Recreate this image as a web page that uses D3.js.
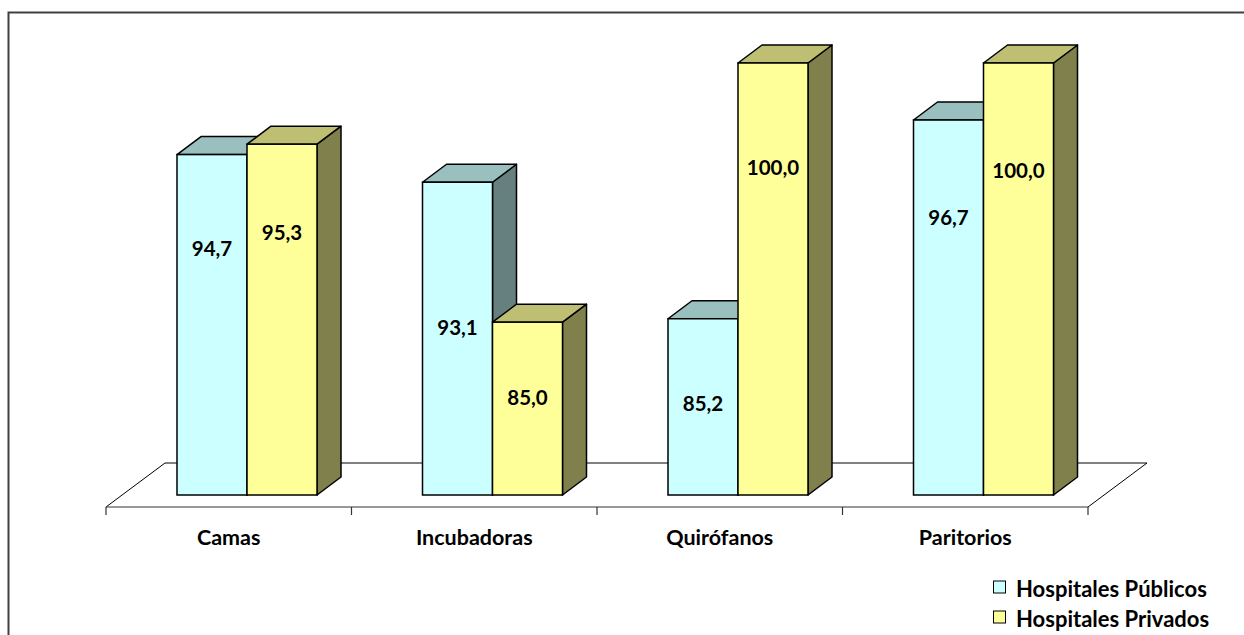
<!DOCTYPE html>
<html>
<head>
<meta charset="utf-8">
<script src="https://cdn.jsdelivr.net/npm/d3@7"></script>
<style>
  html, body { margin: 0; padding: 0; background: #fff; overflow: hidden; }
  svg { display: block; }
  text { font-family: Lato, "Open Sans", sans-serif; font-weight: bold; fill: #000; }
</style>
</head>
<body>
<svg id="chart" width="1244" height="635"></svg>
<script>
// ---- data ----
const categories = ["Camas", "Incubadoras", "Quirófanos", "Paritorios"];
const seriesNames = ["Hospitales Públicos", "Hospitales Privados"];
const publicValues = [94.7, 93.1, 85.2, 96.7];
const privateValues = [95.3, 85.0, 100.0, 100.0];
const valueLabelsPublic = ["94,7", "93,1", "85,2", "96,7"];
const valueLabelsPrivate = ["95,3", "85,0", "100,0", "100,0"];

// ---- layout (label anchors expressed in value units) ----
const labelAnchorPublic = [89.3, 84.7, 80.3, 91.1];
const labelAnchorPrivate = [90.2, 80.7, 94.0, 93.8];

const colors = [
  { front: "#CCFFFF", top: "#99BFBF", side: "#668080" },
  { front: "#FFFF99", top: "#BFBF73", side: "#80804D" }
];

const svg = d3.select("#chart");

// frame
svg.append("rect")
  .attr("x", 8.5).attr("y", 12.5)
  .attr("width", 1400).attr("height", 800)
  .attr("fill", "none").attr("stroke", "#404040").attr("stroke-width", 2);

const x = d3.scaleBand().domain(categories).range([106, 1088]).padding(0);
const y = d3.scaleLinear().domain([75, 100]).range([495, 63]);

const floorFront = 507;
const floorDX = 59, floorDY = -44;
const barDX = 24, barDY = -18;
const barOffset = 71, barW = 70;

// floor
const x0 = x.range()[0], x1 = x.range()[1];
svg.append("path")
  .attr("d", `M${x0},${floorFront} L${x0 + floorDX},${floorFront + floorDY} L${x1 + floorDX},${floorFront + floorDY} L${x1},${floorFront}`)
  .attr("fill", "none").attr("stroke", "#000").attr("stroke-width", 1);

// axis front line + ticks
const axisG = svg.append("g").attr("transform", `translate(0,${floorFront})`);
const axis = d3.axisBottom(x).tickSize(0).tickFormat("");
axisG.call(axis);
axisG.select(".domain").attr("stroke", "#333").attr("stroke-width", 1.2)
  .attr("d", `M${x0},0H${x1}`);
const boundaries = categories.map(c => x(c)).concat([x1]);
axisG.selectAll(".btick").data(boundaries).enter().append("line")
  .attr("class", "btick")
  .attr("x1", d => d).attr("x2", d => d)
  .attr("y1", 0).attr("y2", 8)
  .attr("stroke", "#333").attr("stroke-width", 1.2);

// category labels
svg.selectAll(".cat").data(categories).enter().append("text")
  .attr("class", "cat")
  .attr("x", d => x(d) + x.bandwidth() / 2)
  .attr("y", 537)
  .attr("text-anchor", "middle")
  .attr("dominant-baseline", "central")
  .attr("font-size", 21.5)
  .text(d => d);

// bars
function drawBar(g, bx, value, col) {
  const yt = y(value), yb = y(75);
  const xr = bx + barW;
  g.append("path")
    .attr("d", `M${xr},${yt} L${xr + barDX},${yt + barDY} L${xr + barDX},${yb + barDY} L${xr},${yb} Z`)
    .attr("fill", col.side).attr("stroke", "#000").attr("stroke-width", 1.5).attr("stroke-linejoin", "round");
  g.append("path")
    .attr("d", `M${bx},${yt} L${bx + barDX},${yt + barDY} L${xr + barDX},${yt + barDY} L${xr},${yt} Z`)
    .attr("fill", col.top).attr("stroke", "#000").attr("stroke-width", 1.5).attr("stroke-linejoin", "round");
  g.append("rect")
    .attr("x", bx).attr("y", yt).attr("width", barW).attr("height", yb - yt)
    .attr("fill", col.front).attr("stroke", "#000").attr("stroke-width", 1.5);
}

const barsG = svg.append("g");
categories.forEach((c, i) => {
  const bx = x(c) + barOffset;
  drawBar(barsG, bx, publicValues[i], colors[0]);
  drawBar(barsG, bx + barW, privateValues[i], colors[1]);
});

// value labels
categories.forEach((c, i) => {
  const bx = x(c) + barOffset;
  svg.append("text")
    .attr("x", bx + barW / 2).attr("y", y(labelAnchorPublic[i]))
    .attr("text-anchor", "middle").attr("dominant-baseline", "central")
    .attr("font-size", 20.5).text(valueLabelsPublic[i]);
  svg.append("text")
    .attr("x", bx + barW * 1.5).attr("y", y(labelAnchorPrivate[i]))
    .attr("text-anchor", "middle").attr("dominant-baseline", "central")
    .attr("font-size", 20.5).text(valueLabelsPrivate[i]);
});

// legend
const legend = svg.append("g");
seriesNames.forEach((s, i) => {
  const ly = 587 + i * 30;
  legend.append("rect")
    .attr("x", 993.5).attr("y", ly - 6).attr("width", 12).attr("height", 12)
    .attr("fill", colors[i].front).attr("stroke", "#000").attr("stroke-width", 1);
  legend.append("text")
    .attr("x", 1016).attr("y", ly + 1)
    .attr("dominant-baseline", "central")
    .attr("font-size", 22).text(s);
});
</script>
</body>
</html>
